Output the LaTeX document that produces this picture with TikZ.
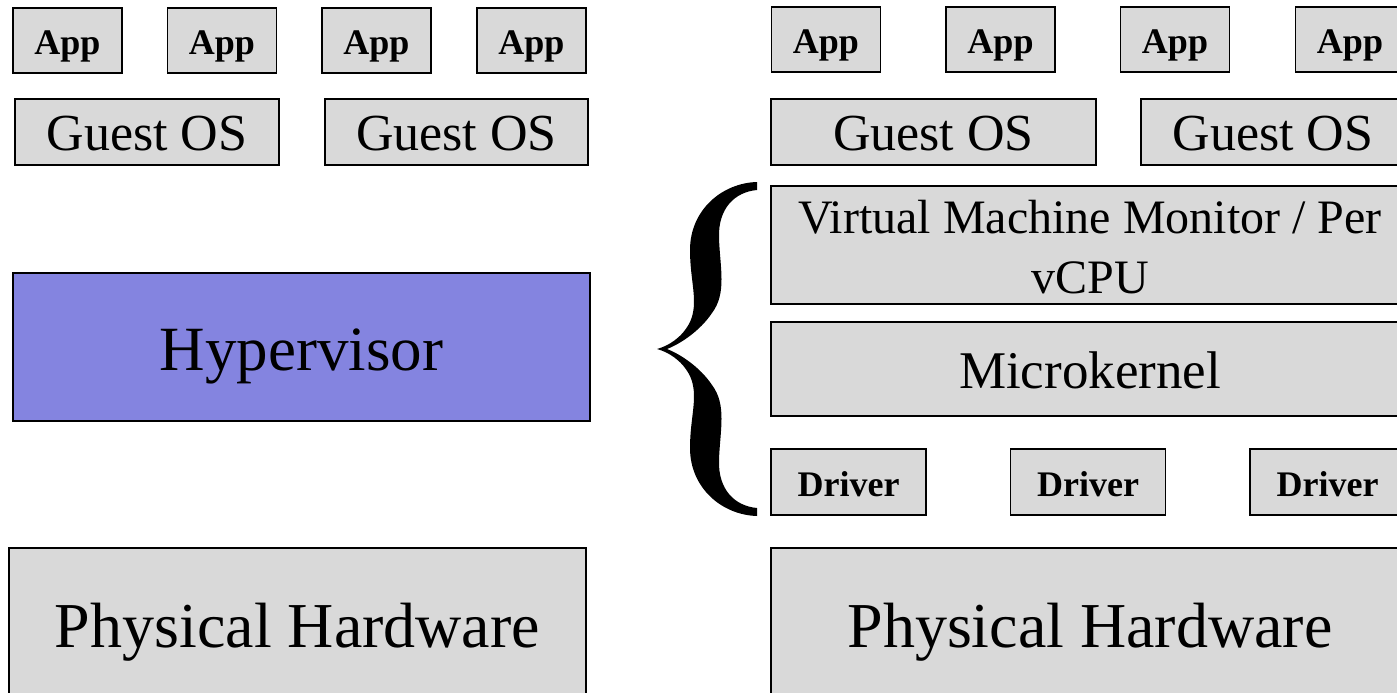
\documentclass[tikz,border=0pt]{standalone}
\usepackage{fontspec}
\setmainfont{Liberation Serif}
\definecolor{layergray}{RGB}{217,217,217}
\definecolor{hvblue}{RGB}{132,132,224}
\tikzset{
  layer/.style={draw=black, line width=1.6pt, fill=layergray, inner sep=0pt,
                rectangle, text=black},
  bl/.style={text height=#1, text depth=0pt},
  appbox/.style={layer, minimum width=109pt, minimum height=65pt,
                 font=\fontsize{36}{40}\selectfont\bfseries},
  osbox/.style={layer, minimum height=66pt, bl=36pt,
                font=\fontsize{52}{60}\selectfont},
  drvbox/.style={layer, minimum width=155pt, minimum height=66pt, bl=28pt,
                 font=\fontsize{36}{40}\selectfont\bfseries},
  hwbox/.style={layer, minimum height=172pt, bl=26pt,
                font=\fontsize{64}{72}\selectfont},
}
\begin{document}
\begin{tikzpicture}[x=1pt,y=-1pt]
\useasboundingbox (0,0) rectangle (1397,693);
\clip (0,0) rectangle (1397,693);

% ---- hypervisor stack ----
\node[appbox, bl=29pt] (la1) at (67.5,40.5) {App};
\node[appbox, bl=29pt] (la2) at (222,40.5) {App};
\node[appbox, bl=29pt] (la3) at (376.5,40.5) {App};
\node[appbox, bl=29pt] (la4) at (531.5,40.5) {App};
\node[osbox, minimum width=264pt] (los1) at (147,132) {Guest OS};
\node[osbox, minimum width=263pt] (los2) at (456.5,132) {Guest OS};
\node[layer, fill=hvblue, minimum width=577pt, minimum height=148pt, bl=46pt,
      font=\fontsize{63}{70}\selectfont] (hv) at (301.5,347) {Hypervisor};
\node[hwbox, minimum width=577pt] (lhw) at (297.5,634) {Physical Hardware};

% ---- microkernel stack ----
\node[appbox, bl=27pt] (ra1) at (826,39.5) {App};
\node[appbox, bl=27pt] (ra2) at (1000.5,39.5) {App};
\node[appbox, bl=27pt] (ra3) at (1175,39.5) {App};
\node[appbox, bl=27pt] (ra4) at (1350,39.5) {App};
\node[osbox, minimum width=325pt] (ros1) at (933.5,132) {Guest OS};
\node[osbox, minimum width=264pt] (ros2) at (1273,132) {Guest OS};
\node[layer, minimum width=638pt, minimum height=118pt] (vmm) at (1090,245) {};
% base anchor of a two-line node sits on the last line
\node[anchor=base, inner sep=0pt, align=center,
      font=\fontsize{48}{60}\selectfont] (vmmtext) at (1090,293)
      {Virtual Machine Monitor / Per\\vCPU};
\node[layer, minimum width=638pt, minimum height=94pt, bl=38pt,
      font=\fontsize{53}{60}\selectfont] (mk) at (1090,369) {Microkernel};
\node[drvbox] (d1) at (848.5,482) {Driver};
\node[drvbox] (d2) at (1088,482) {Driver};
\node[drvbox] (d3) at (1327.5,482) {Driver};
\node[hwbox, minimum width=638pt] (rhw) at (1090,634) {Physical Hardware};

% ---- curly brace grouping the microkernel layers ----
\fill[black]
  (757,182) .. controls (722,183) and (690,210) .. (690,250)
  .. controls (690,282) and (699,302) .. (690,322)
  .. controls (682,338) and (668,346) .. (657,349)
  .. controls (668,352) and (682,360) .. (690,376)
  .. controls (699,396) and (690,416) .. (690,448)
  .. controls (690,488) and (722,515) .. (757,516)
  -- (757,508)
  .. controls (735,506) and (718,490) .. (719,460)
  .. controls (720,430) and (727,405) .. (712,385)
  .. controls (700,367) and (680,354) .. (667,349)
  .. controls (680,344) and (700,331) .. (712,313)
  .. controls (727,293) and (720,268) .. (719,238)
  .. controls (718,208) and (735,192) .. (757,190) -- cycle;
\end{tikzpicture}
\end{document}
